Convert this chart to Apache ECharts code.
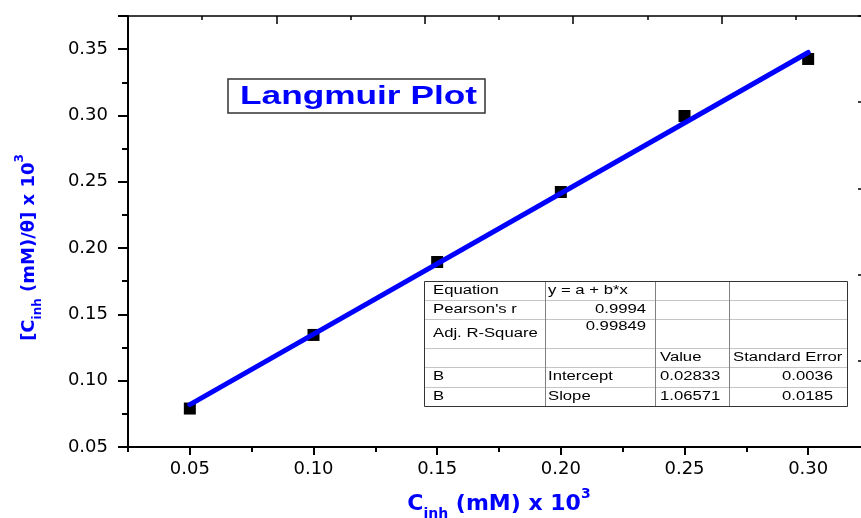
<!DOCTYPE html>
<html><head><meta charset="utf-8">
<script src="https://cdn.jsdelivr.net/npm/echarts@6/dist/echarts.min.js"></script>
<style>html,body{margin:0;padding:0;background:#fff}#c{width:861px;height:518px}</style>
</head><body><div id="c"></div>
<script>
// ---- data ----
const xValues = [0.05, 0.10, 0.15, 0.20, 0.25, 0.30];
const yValues = [0.079, 0.1345, 0.1895, 0.2423, 0.2996, 0.3426];
const fitX = [0.05, 0.30];
const fitY = [0.0820, 0.3475];
const xTickValues = [0.05, 0.10, 0.15, 0.20, 0.25, 0.30];
const titleText = 'Langmuir Plot';
const tableCells = [
  ['Equation', 'y = a + b*x', '', ''],
  ["Pearson's r", '0.9994', '', ''],
  ['Adj. R-Square', '0.99849', '', ''],
  ['', '', 'Value', 'Standard Error'],
  ['B', 'Intercept', '0.02833', '0.0036'],
  ['B', 'Slope', '1.06571', '0.0185']
];

// ---- layout ----
const STRETCH = 1.39;
const tblCols = [424, 545, 655, 729, 847];
const tblRows = [281, 300, 319, 348, 367, 387, 406];
const leftPad = [9, 3, 5, 4];
const rightPad = [0, 9, 0, 14];
const isRight = (r, c) => (c === 1 && (r === 1 || r === 2)) || (c === 3 && r >= 4);

const graphics = [];
// title box
graphics.push({type:'rect', z:100, shape:{x:228, y:79, width:257, height:34},
  style:{fill:'#fff', stroke:'#333', lineWidth:1.5}});
graphics.push({type:'text', z:101, x:240, y:97, scaleX:1.41,
  style:{text:titleText, fontFamily:'"Liberation Sans", Arial, sans-serif', fontWeight:'bold', fontSize:25,
    fill:'#0000ff', align:'left', verticalAlign:'middle', textAlign:'left', textVerticalAlign:'middle'}});
// table
graphics.push({type:'rect', z:100, shape:{x:tblCols[0], y:tblRows[0], width:tblCols[4]-tblCols[0], height:tblRows[6]-tblRows[0]},
  style:{fill:'#fff', stroke:'none'}});
for (let i = 1; i < tblRows.length - 1; i++) {
  graphics.push({type:'line', z:101, shape:{x1:tblCols[0], y1:tblRows[i]+0.5, x2:tblCols[4], y2:tblRows[i]+0.5},
    style:{stroke:'#c4c4c4', lineWidth:1}});
}
for (let j = 1; j < tblCols.length - 1; j++) {
  graphics.push({type:'line', z:101, shape:{x1:tblCols[j]+0.5, y1:tblRows[0], x2:tblCols[j]+0.5, y2:tblRows[6]},
    style:{stroke:'#808080', lineWidth:1}});
}
graphics.push({type:'rect', z:102, shape:{x:tblCols[0]+0.5, y:tblRows[0]+0.5, width:tblCols[4]-tblCols[0], height:tblRows[6]-tblRows[0]},
  style:{fill:'none', stroke:'#333', lineWidth:1}});
tableCells.forEach((row, r) => {
  row.forEach((txt, c) => {
    if (!txt) return;
    const right = isRight(r, c);
    let y = (tblRows[r] + tblRows[r+1]) / 2;
    if (r === 2 && c === 1) y = tblRows[r] + 8;
    const x = right ? tblCols[c+1] - rightPad[c] : tblCols[c] + leftPad[c];
    graphics.push({type:'text', z:103, x:x, y:y, scaleX:STRETCH,
      style:{text:txt, fontFamily:'"Liberation Sans", Arial, sans-serif', fontSize:12, fill:'#000',
        align: right ? 'right' : 'left', textAlign: right ? 'right' : 'left',
        verticalAlign:'middle', textVerticalAlign:'middle'}});
  });
});

const blk = {color:'#000', width:2};
const labelFont = {fontFamily:'"DejaVu Sans", sans-serif', fontSize:18, color:'#000'};

const option = {
  animation: false,
  backgroundColor: '#fff',
  grid: [
    {left:128, top:16, right:-9, bottom:71, containLabel:false, outerBoundsMode:'none'},
    {left:128, top:16, right:-9, bottom:71, containLabel:false, outerBoundsMode:'none'}
  ],
  xAxis: [
    {type:'value', gridIndex:0, position:'bottom', min:0.025, max:0.325, interval:0.025,
      axisLine:{show:true, onZero:false, lineStyle:blk},
      axisTick:{show:true, length:5, lineStyle:blk},
      axisLabel:{show:false}, splitLine:{show:false}},
    {type:'value', gridIndex:0, position:'bottom', offset:0, min:0.025, max:0.325,
      axisLine:{show:false, onZero:false},
      axisTick:{show:true, length:8, customValues:xTickValues, lineStyle:blk},
      axisLabel:Object.assign({show:true, customValues:xTickValues, margin:13,
        formatter:v => Number(v).toFixed(2)}, labelFont),
      splitLine:{show:false},
      name:'{m|C}{sub|inh}{m| (mM) x 10}{sup|3}', nameLocation:'middle', nameGap:40,
      nameTextStyle:{rich:{
        m:{fontFamily:'"DejaVu Sans", sans-serif', fontWeight:'bold', fontSize:22, color:'#0000ff', lineHeight:34},
        sub:{fontFamily:'"DejaVu Sans", sans-serif', fontWeight:'bold', fontSize:14, color:'#0000ff', lineHeight:14, verticalAlign:'bottom'},
        sup:{fontFamily:'"DejaVu Sans", sans-serif', fontWeight:'bold', fontSize:14, color:'#0000ff', lineHeight:22, verticalAlign:'top'}
      }}},
    {type:'value', gridIndex:1, position:'top', min:0, max:5, interval:1,
      axisLine:{show:true, onZero:false, lineStyle:{color:'#000', width:1.5}},
      axisTick:{show:true, inside:true, length:8, lineStyle:{color:'#000', width:1.5}},
      minorTick:{show:true, splitNumber:2, length:4, lineStyle:{color:'#000', width:1.5}},
      axisLabel:{show:false}, splitLine:{show:false}, minorSplitLine:{show:false}}
  ],
  yAxis: [
    {type:'value', gridIndex:0, position:'left', min:0.05, max:0.375, interval:0.05,
      axisLine:{show:true, onZero:false, lineStyle:blk},
      axisTick:{show:true, length:10, lineStyle:blk},
      minorTick:{show:true, splitNumber:2, length:6, lineStyle:blk},
      axisLabel:Object.assign({margin:20, showMaxLabel:false, formatter:v => Number(v).toFixed(2)}, labelFont),
      splitLine:{show:false}, minorSplitLine:{show:false},
      name:'{m|[C}{sub|inh}{m| (mM)/θ] x 10}{sup|3}', nameLocation:'middle', nameGap:84,
      nameTextStyle:{padding:[0,32,0,0], rich:{
        m:{fontFamily:'"DejaVu Sans", sans-serif', fontWeight:'bold', fontSize:18, color:'#0000ff', lineHeight:30},
        sub:{fontFamily:'"DejaVu Sans", sans-serif', fontWeight:'bold', fontSize:12, color:'#0000ff', lineHeight:12, verticalAlign:'bottom'},
        sup:{fontFamily:'"DejaVu Sans", sans-serif', fontWeight:'bold', fontSize:12, color:'#0000ff', lineHeight:20, verticalAlign:'top'}
      }}},
    {type:'value', gridIndex:1, position:'right', min:0, max:5, interval:1,
      axisLine:{show:false, onZero:false},
      axisTick:{show:true, inside:true, length:12, lineStyle:{color:'#000', width:1.5}},
      axisLabel:{show:false}, splitLine:{show:false}}
  ],
  series: [
    {type:'scatter', xAxisIndex:0, yAxisIndex:0, z:2, symbol:'rect', symbolSize:12,
      itemStyle:{color:'#000', opacity:1}, emphasis:{disabled:true},
      data: xValues.map((x, i) => [x, yValues[i]])},
    {type:'line', xAxisIndex:0, yAxisIndex:0, z:3, symbol:'none',
      lineStyle:{color:'#0000ff', width:5, cap:'round'},
      data: fitX.map((x, i) => [x, fitY[i]])}
  ],
  graphic: graphics
};
const chart = echarts.init(document.getElementById('c'), null, {renderer:'canvas'});
chart.setOption(option);
</script></body></html>
